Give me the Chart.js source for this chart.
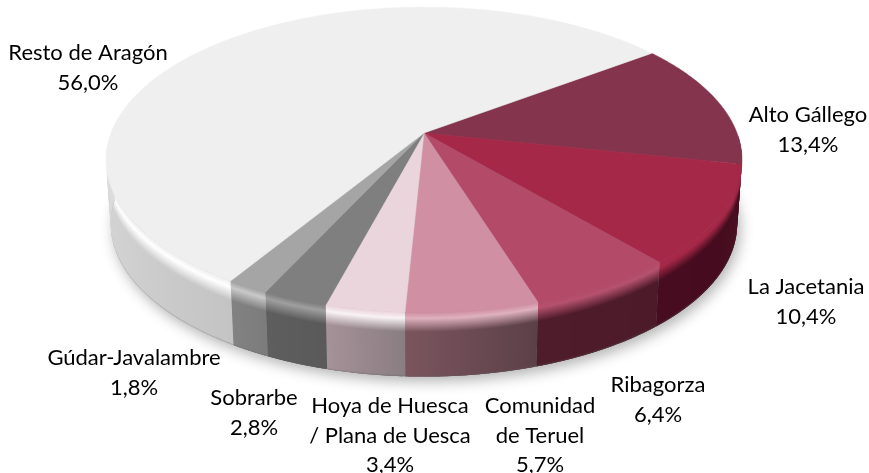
<!DOCTYPE html>
<html>
<head>
<meta charset="utf-8">
<style>
  html, body { margin: 0; padding: 0; background: #fff; overflow: hidden; }
  canvas { display: block; }
</style>
<script src="https://cdn.jsdelivr.net/npm/chart.js@4"></script>
</head>
<body>
<canvas id="pieChart" width="869" height="473"></canvas>
<script>
const categories = ['Alto Gállego', 'La Jacetania', 'Ribagorza', 'Comunidad de Teruel', 'Hoya de Huesca / Plana de Uesca', 'Sobrarbe', 'Gúdar-Javalambre', 'Resto de Aragón'];
const shares = [13.4, 10.4, 6.4, 5.7, 3.4, 2.8, 1.8, 56.0];

const topColors = ['#85344e', '#a52848', '#b24a68', '#d08fa3', '#ebd5dd', '#7f7f7f', '#a5a5a5', '#efefef'];
const wallLeft = ['#4a0d20', '#480c20', '#4f1c2b', '#7b555e', '#a69299', '#5e5e5e', '#828282', '#dcdcdc'];
const wallRight = ['#4a0d20', '#440a1c', '#4c1a28', '#5c4048', '#8a7e82', '#5a5a5a', '#7c7c7c', '#c4c4c4'];
const rimLight = [0, 0, 0.04, 0.3, 0.7, 0.25, 0.4, 1];

// label lines and where each one sits (centre x, baseline y)
const labelLines = [['Alto Gállego'], ['La Jacetania'], ['Ribagorza'], ['Comunidad', 'de Teruel'], ['Hoya de Huesca', '/ Plana de Uesca'], ['Sobrarbe'], ['Gúdar-Javalambre'], ['Resto de Aragón']];
const labelSpots = [[808, 122], [806, 294], [658, 392], [540, 413], [390, 413], [254, 405], [134, 365], [88, 60]];
const lineGap = 29.5;

// tilted disc with a bit of perspective, the apex sits above the ellipse centre
const disc = { cx: 424, cy: 133, a: 313, b: 148, k: 0.176, wall: 64, taper: 0.015 };

const project = (t, z = 0) => {
  const den = 1 - disc.k * Math.sin(t);
  const scale = 1 - disc.taper * z;
  return {
    x: disc.cx + disc.a * Math.cos(t) / den * scale,
    y: disc.cy + disc.b * Math.sin(t) / den + disc.wall * z
  };
};

const hexToRgb = hex => [1, 3, 5].map(i => parseInt(hex.slice(i, i + 2), 16));
const mix = (c1, c2, f) => c1.map((v, i) => v + (c2[i] - v) * f);
const css = c => `rgb(${c.map(v => Math.round(v)).join(',')})`;

const drawShadow = ctx => {
  ctx.save();
  ctx.shadowColor = 'rgba(0,0,0,0.3)';
  ctx.shadowBlur = 14;
  ctx.shadowOffsetX = 3;
  ctx.shadowOffsetY = 5;
  ctx.fillStyle = '#999';
  ctx.beginPath();
  for (let d = 0; d <= 360; d += 2) {
    const p = project(d * Math.PI / 180, 1);
    ctx.lineTo(p.x, p.y);
  }
  ctx.closePath();
  ctx.fill();
  ctx.restore();
};

const drawWall = (ctx, arc, i) => {
  const step = Math.PI / 720;
  const from = Math.max(arc.startAngle, 0.02);
  const to = Math.min(arc.endAngle, Math.PI - 0.02);
  if (to <= from) return;
  const top = hexToRgb(topColors[i]);
  const light = mix(top, [255, 255, 255], rimLight[i]);
  const left = hexToRgb(wallLeft[i]);
  const right = hexToRgb(wallRight[i]);

  for (let t = from; t < to; t += step) {
    // strips overlap the next one so no seams show
    const t2 = Math.min(t + step * 2.5, to);
    // the angle runs right to left along the front of the disc
    const f = (t - from) / (to - from);
    const wall = mix(right, left, f);
    const a = project(t), b = project(t2), c = project(t2, 1), d = project(t, 1);
    const g = ctx.createLinearGradient(0, a.y, 0, d.y);
    g.addColorStop(0, css(top));
    g.addColorStop(0.09, css(light));
    g.addColorStop(0.3, css(wall));
    g.addColorStop(0.97, css(wall));
    g.addColorStop(1, css(mix(wall, [90, 90, 90], 0.3)));
    ctx.fillStyle = g;
    ctx.beginPath();
    ctx.moveTo(a.x, a.y);
    ctx.lineTo(b.x, b.y);
    ctx.lineTo(c.x, c.y);
    ctx.lineTo(d.x, d.y);
    ctx.closePath();
    ctx.fill();
  }
};

const drawTop = (ctx, arc, i) => {
  ctx.fillStyle = topColors[i];
  ctx.strokeStyle = topColors[i];
  ctx.lineWidth = 0.5;
  ctx.beginPath();
  ctx.moveTo(disc.cx, disc.cy);
  const steps = Math.ceil((arc.endAngle - arc.startAngle) / 0.01);
  for (let s = 0; s <= steps; s++) {
    const p = project(arc.startAngle + (arc.endAngle - arc.startAngle) * s / steps);
    ctx.lineTo(p.x, p.y);
  }
  ctx.closePath();
  ctx.fill();
  ctx.stroke();
};

const tiltedPie = {
  id: 'tiltedPie',
  // the library works out the arcs, they get painted here with the tilt applied
  beforeDatasetsDraw(chart) {
    const ctx = chart.ctx;
    const arcs = chart.getDatasetMeta(0).data;
    ctx.save();
    drawShadow(ctx);
    arcs.forEach((arc, i) => drawWall(ctx, arc, i));
    arcs.forEach((arc, i) => drawTop(ctx, arc, i));
    ctx.restore();
    return false;
  },
  afterDraw(chart) {
    const ctx = chart.ctx;
    ctx.save();
    ctx.font = '22px Lato';
    ctx.fillStyle = '#000';
    ctx.textAlign = 'center';
    ctx.textBaseline = 'alphabetic';
    labelLines.forEach((lines, i) => {
      const [x, y] = labelSpots[i];
      const text = [...lines, shares[i].toFixed(1).replace('.', ',') + '%'];
      text.forEach((line, n) => ctx.fillText(line, x, y + n * lineGap));
    });
    ctx.restore();
  }
};

new Chart(document.getElementById('pieChart'), {
  type: 'pie',
  data: {
    labels: categories,
    datasets: [{ data: shares, backgroundColor: topColors, borderWidth: 0 }]
  },
  options: {
    responsive: false,
    animation: false,
    rotation: 53.5,
    plugins: { legend: { display: false }, tooltip: { enabled: false } }
  },
  plugins: [tiltedPie]
});
</script>
</body>
</html>
